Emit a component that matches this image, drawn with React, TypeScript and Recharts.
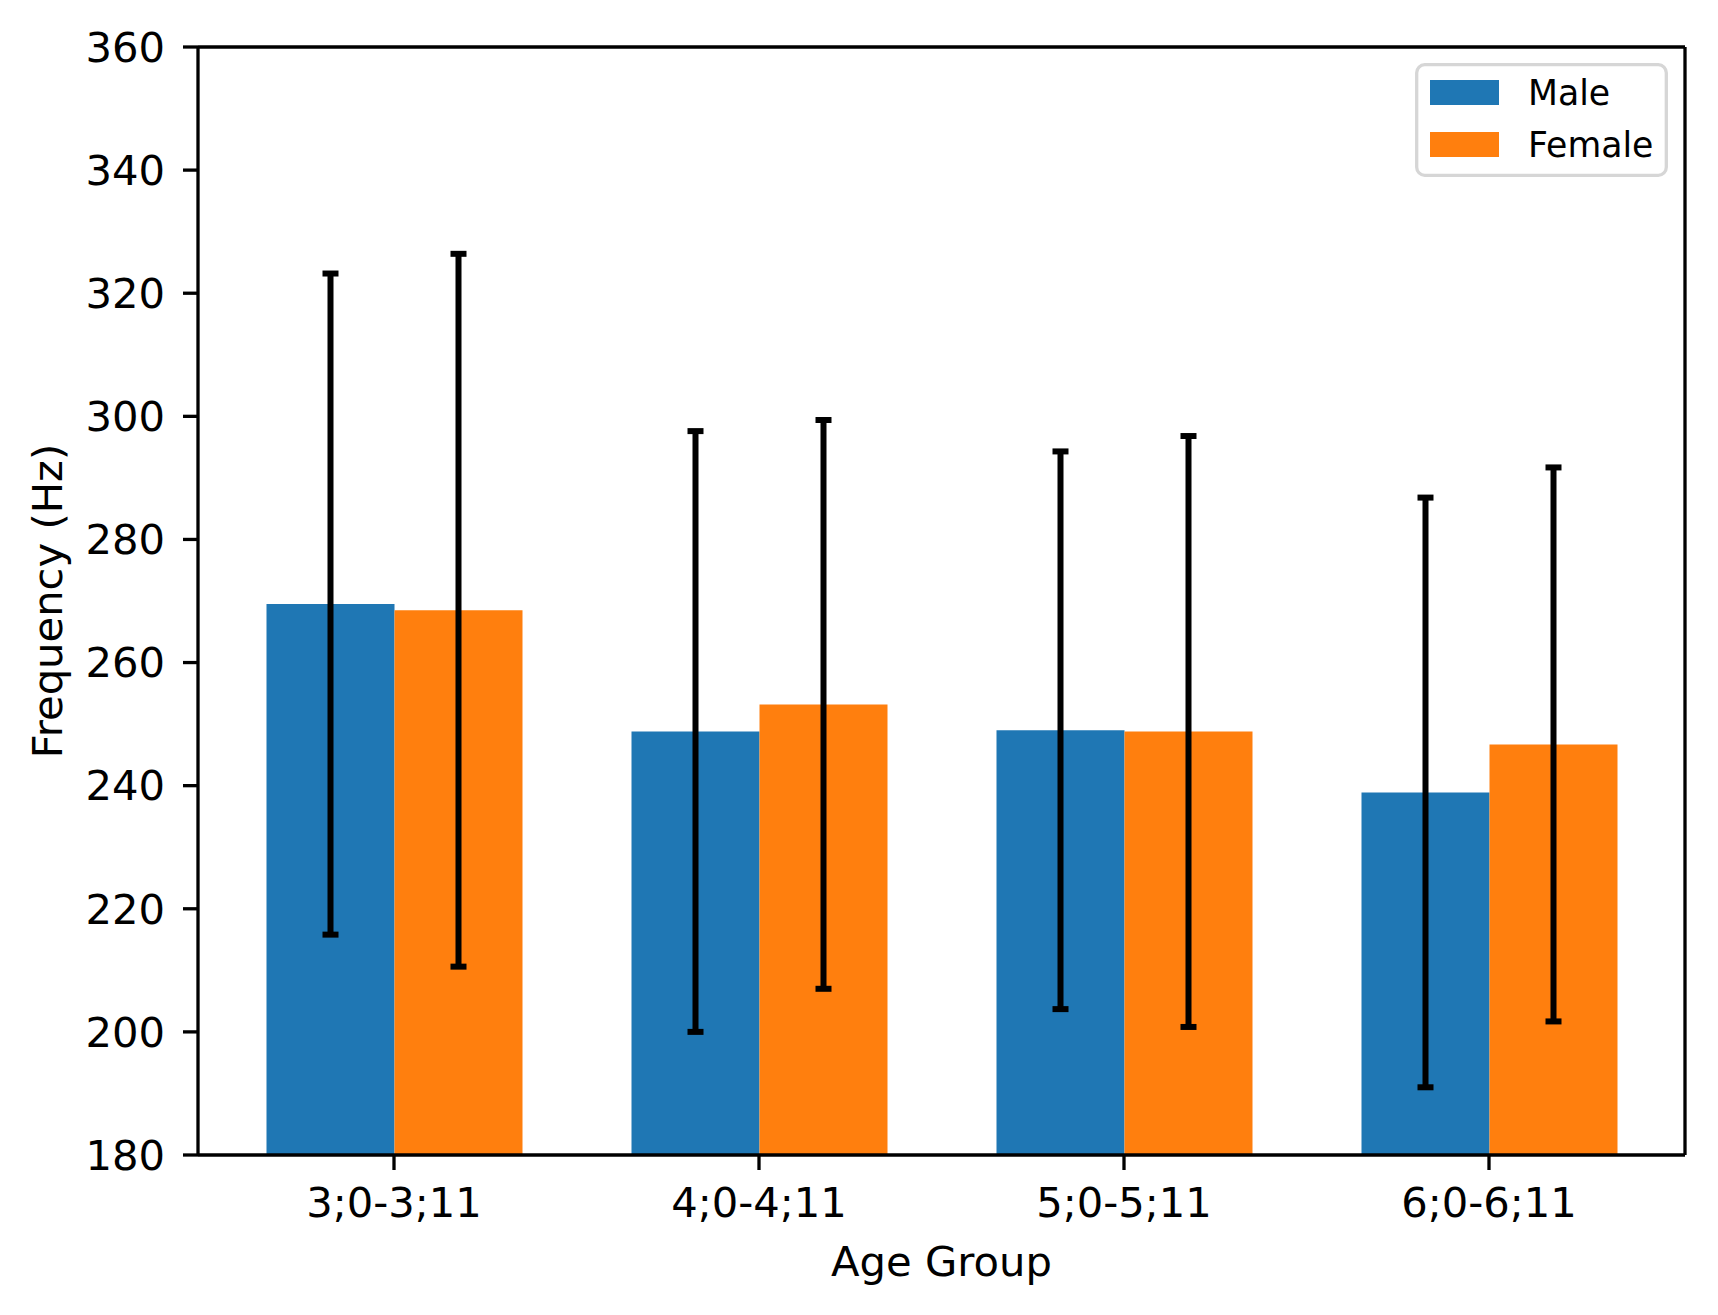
import React from 'react';
import { BarChart, Bar, XAxis, YAxis, ErrorBar, Legend, Label } from 'recharts';

const categories = ['3;0-3;11', '4;0-4;11', '5;0-5;11', '6;0-6;11'];
const maleValues = [269.5, 248.8, 249.0, 238.9];
const maleErrors = [53.7, 48.8, 45.3, 47.9];
const femaleValues = [268.5, 253.2, 248.8, 246.7];
const femaleErrors = [57.9, 46.2, 48.0, 45.0];
const yTicks = [180, 200, 220, 240, 260, 280, 300, 320, 340, 360];
const seriesNames = ['Male', 'Female'];

const BLUE = '#1f77b4';
const ORANGE = '#ff7f0e';
const FONT = '"DejaVu Sans", sans-serif';
const FS = 41.7;
const AX = 3.3;

const data = categories.map((c, i) => ({
  group: c,
  male: maleValues[i],
  maleErr: maleErrors[i],
  female: femaleValues[i],
  femaleErr: femaleErrors[i],
}));

const LegendBox = () => (
  <svg width={253} height={114} style={{ display: 'block' }}>
    <rect x={1.7} y={1.7} width={249.6} height={110.6} rx={8} ry={8} fill="#fff" fillOpacity={0.8} stroke="#d6d6d6" strokeWidth={3.3} />
    <rect x={15} y={17} width={69} height={25} fill={BLUE} />
    <text x={113} y={42} fontFamily={FONT} fontSize={34.7} fill="#000">{seriesNames[0]}</text>
    <rect x={15} y={69} width={69} height={25} fill={ORANGE} />
    <text x={113} y={94} fontFamily={FONT} fontSize={34.7} fill="#000">{seriesNames[1]}</text>
  </svg>
);

const YLabel = (props: any) => {
  const vb = props.viewBox || { x: 0, y: 0, width: 0, height: 0 };
  const cx = vb.x + 62;
  const cy = vb.y + vb.height / 2;
  return (
    <text x={cx} y={cy} transform={`rotate(-90 ${cx} ${cy})`} textAnchor="middle" fontFamily={FONT} fontSize={FS} fill="#000">
      Frequency (Hz)
    </text>
  );
};

export default function App() {
  return (
    <div style={{ position: 'absolute', left: 0, top: 0, width: 1718, height: 1315, background: '#fff', fontFamily: FONT }}>
      <BarChart
        width={1718}
        height={1315}
        data={data}
        margin={{ top: 46, right: 32, bottom: 39, left: 0 }}
        barGap={0}
        barSize={128}
      >
        <XAxis
          dataKey="group"
          type="category"
          height={121}
          padding={{ left: 13.5, right: 13.5 }}
          tickSize={15}
          tickMargin={17}
          axisLine={{ stroke: '#000', strokeWidth: AX }}
          tickLine={{ stroke: '#000', strokeWidth: AX }}
          tick={{ fill: '#000', fontSize: FS, fontFamily: FONT }}
          interval={0}
        >
          <Label value="Age Group" position="insideBottom" offset={0} fill="#000" fontSize={FS} fontFamily={FONT} />
        </XAxis>
        <XAxis
          xAxisId="top"
          dataKey="group"
          orientation="top"
          height={1}
          tick={false}
          tickLine={false}
          axisLine={{ stroke: '#000', strokeWidth: AX }}
        />
        <YAxis
          type="number"
          domain={[180, 360]}
          ticks={yTicks}
          allowDataOverflow
          width={198}
          tickSize={15}
          tickMargin={18}
          axisLine={{ stroke: '#000', strokeWidth: AX }}
          tickLine={{ stroke: '#000', strokeWidth: AX }}
          tick={{ fill: '#000', fontSize: FS, fontFamily: FONT }}
        >
          <Label content={YLabel} />
        </YAxis>
        <YAxis
          yAxisId="right"
          orientation="right"
          type="number"
          domain={[180, 360]}
          width={1}
          tick={false}
          tickLine={false}
          axisLine={{ stroke: '#000', strokeWidth: AX }}
        />
        <Legend
          layout="vertical"
          align="center"
          verticalAlign="middle"
          wrapperStyle={{ position: 'absolute', left: 1415, top: 63, width: 253, height: 114 }}
          content={() => <LegendBox />}
        />
        <Bar dataKey="male" name="Male" fill={BLUE} isAnimationActive={false}>
          <ErrorBar dataKey="maleErr" direction="y" width={8} stroke="#000" strokeWidth={6} />
        </Bar>
        <Bar dataKey="female" name="Female" fill={ORANGE} isAnimationActive={false}>
          <ErrorBar dataKey="femaleErr" direction="y" width={8} stroke="#000" strokeWidth={6} />
        </Bar>
      </BarChart>
    </div>
  );
}
